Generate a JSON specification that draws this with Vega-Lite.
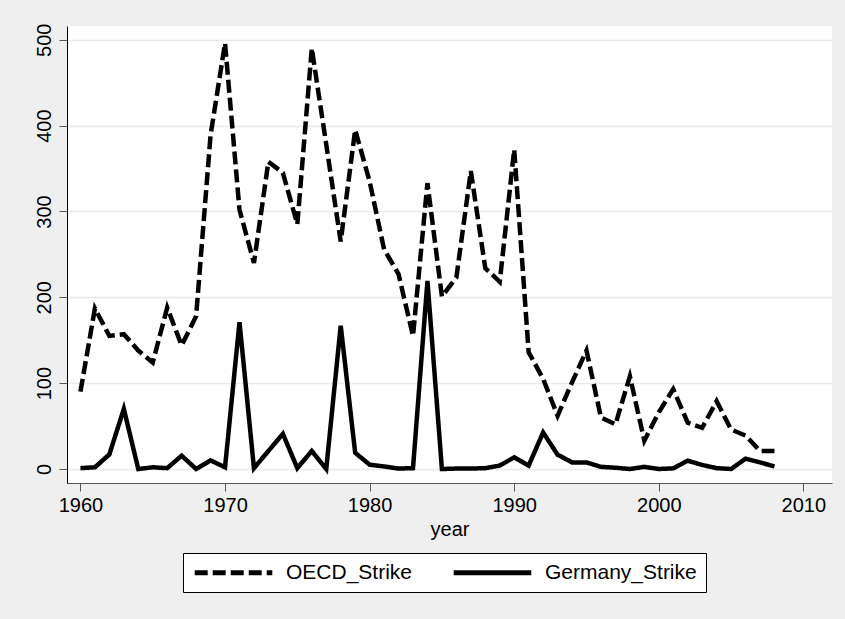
{
  "$schema": "https://vega.github.io/schema/vega-lite/v6.json",
  "autosize": "none",
  "width": 765,
  "height": 457,
  "padding": {"left": 67, "top": 26, "right": 13, "bottom": 136},
  "background": "#efefef",
  "config": {
    "view": {"fill": "white", "stroke": null},
    "font": "Liberation Sans",
    "axis": {
      "labelFont": "Liberation Sans",
      "titleFont": "Liberation Sans",
      "labelFontSize": 20,
      "titleFontSize": 20,
      "labelColor": "black",
      "titleColor": "black",
      "titleFontWeight": "normal",
      "domainColor": "#444444",
      "domainWidth": 1,
      "tickColor": "#555555",
      "tickWidth": 1,
      "tickSize": 8
    },
    "legend": {
      "labelFont": "Liberation Sans",
      "labelFontSize": 21,
      "labelColor": "black"
    }
  },
  "data": {
    "values": [
      {"year": 1960, "series": "OECD_Strike", "value": 90},
      {"year": 1961, "series": "OECD_Strike", "value": 187},
      {"year": 1962, "series": "OECD_Strike", "value": 155},
      {"year": 1963, "series": "OECD_Strike", "value": 157},
      {"year": 1964, "series": "OECD_Strike", "value": 138},
      {"year": 1965, "series": "OECD_Strike", "value": 124},
      {"year": 1966, "series": "OECD_Strike", "value": 188},
      {"year": 1967, "series": "OECD_Strike", "value": 144},
      {"year": 1968, "series": "OECD_Strike", "value": 178},
      {"year": 1969, "series": "OECD_Strike", "value": 389},
      {"year": 1970, "series": "OECD_Strike", "value": 496},
      {"year": 1971, "series": "OECD_Strike", "value": 302},
      {"year": 1972, "series": "OECD_Strike", "value": 240},
      {"year": 1973, "series": "OECD_Strike", "value": 358},
      {"year": 1974, "series": "OECD_Strike", "value": 345},
      {"year": 1975, "series": "OECD_Strike", "value": 285},
      {"year": 1976, "series": "OECD_Strike", "value": 490},
      {"year": 1977, "series": "OECD_Strike", "value": 378},
      {"year": 1978, "series": "OECD_Strike", "value": 265},
      {"year": 1979, "series": "OECD_Strike", "value": 395},
      {"year": 1980, "series": "OECD_Strike", "value": 335},
      {"year": 1981, "series": "OECD_Strike", "value": 256},
      {"year": 1982, "series": "OECD_Strike", "value": 227},
      {"year": 1983, "series": "OECD_Strike", "value": 155},
      {"year": 1984, "series": "OECD_Strike", "value": 333},
      {"year": 1985, "series": "OECD_Strike", "value": 201},
      {"year": 1986, "series": "OECD_Strike", "value": 223},
      {"year": 1987, "series": "OECD_Strike", "value": 347},
      {"year": 1988, "series": "OECD_Strike", "value": 234},
      {"year": 1989, "series": "OECD_Strike", "value": 218},
      {"year": 1990, "series": "OECD_Strike", "value": 372},
      {"year": 1991, "series": "OECD_Strike", "value": 136},
      {"year": 1992, "series": "OECD_Strike", "value": 105},
      {"year": 1993, "series": "OECD_Strike", "value": 62},
      {"year": 1994, "series": "OECD_Strike", "value": 101},
      {"year": 1995, "series": "OECD_Strike", "value": 138},
      {"year": 1996, "series": "OECD_Strike", "value": 60},
      {"year": 1997, "series": "OECD_Strike", "value": 52},
      {"year": 1998, "series": "OECD_Strike", "value": 108},
      {"year": 1999, "series": "OECD_Strike", "value": 33},
      {"year": 2000, "series": "OECD_Strike", "value": 66},
      {"year": 2001, "series": "OECD_Strike", "value": 93},
      {"year": 2002, "series": "OECD_Strike", "value": 54},
      {"year": 2003, "series": "OECD_Strike", "value": 48},
      {"year": 2004, "series": "OECD_Strike", "value": 79},
      {"year": 2005, "series": "OECD_Strike", "value": 46},
      {"year": 2006, "series": "OECD_Strike", "value": 39},
      {"year": 2007, "series": "OECD_Strike", "value": 21},
      {"year": 2008, "series": "OECD_Strike", "value": 21},
      {"year": 1960, "series": "Germany_Strike", "value": 1},
      {"year": 1961, "series": "Germany_Strike", "value": 2},
      {"year": 1962, "series": "Germany_Strike", "value": 17},
      {"year": 1963, "series": "Germany_Strike", "value": 70},
      {"year": 1964, "series": "Germany_Strike", "value": 0},
      {"year": 1965, "series": "Germany_Strike", "value": 2},
      {"year": 1966, "series": "Germany_Strike", "value": 1},
      {"year": 1967, "series": "Germany_Strike", "value": 15.5},
      {"year": 1968, "series": "Germany_Strike", "value": 0},
      {"year": 1969, "series": "Germany_Strike", "value": 10},
      {"year": 1970, "series": "Germany_Strike", "value": 2},
      {"year": 1971, "series": "Germany_Strike", "value": 171},
      {"year": 1972, "series": "Germany_Strike", "value": 1},
      {"year": 1973, "series": "Germany_Strike", "value": 21},
      {"year": 1974, "series": "Germany_Strike", "value": 41},
      {"year": 1975, "series": "Germany_Strike", "value": 1},
      {"year": 1976, "series": "Germany_Strike", "value": 21},
      {"year": 1977, "series": "Germany_Strike", "value": 0},
      {"year": 1978, "series": "Germany_Strike", "value": 167},
      {"year": 1979, "series": "Germany_Strike", "value": 19},
      {"year": 1980, "series": "Germany_Strike", "value": 5},
      {"year": 1981, "series": "Germany_Strike", "value": 3},
      {"year": 1982, "series": "Germany_Strike", "value": 0.5},
      {"year": 1983, "series": "Germany_Strike", "value": 1},
      {"year": 1984, "series": "Germany_Strike", "value": 219},
      {"year": 1985, "series": "Germany_Strike", "value": 0},
      {"year": 1986, "series": "Germany_Strike", "value": 0.5},
      {"year": 1987, "series": "Germany_Strike", "value": 0.5},
      {"year": 1988, "series": "Germany_Strike", "value": 1},
      {"year": 1989, "series": "Germany_Strike", "value": 4},
      {"year": 1990, "series": "Germany_Strike", "value": 13.6},
      {"year": 1991, "series": "Germany_Strike", "value": 4},
      {"year": 1992, "series": "Germany_Strike", "value": 42.6},
      {"year": 1993, "series": "Germany_Strike", "value": 16.7},
      {"year": 1994, "series": "Germany_Strike", "value": 7.7},
      {"year": 1995, "series": "Germany_Strike", "value": 7.7},
      {"year": 1996, "series": "Germany_Strike", "value": 2.5},
      {"year": 1997, "series": "Germany_Strike", "value": 1.5},
      {"year": 1998, "series": "Germany_Strike", "value": 0},
      {"year": 1999, "series": "Germany_Strike", "value": 2.5},
      {"year": 2000, "series": "Germany_Strike", "value": 0},
      {"year": 2001, "series": "Germany_Strike", "value": 0.8},
      {"year": 2002, "series": "Germany_Strike", "value": 9.7},
      {"year": 2003, "series": "Germany_Strike", "value": 4.7},
      {"year": 2004, "series": "Germany_Strike", "value": 1},
      {"year": 2005, "series": "Germany_Strike", "value": 0},
      {"year": 2006, "series": "Germany_Strike", "value": 12},
      {"year": 2007, "series": "Germany_Strike", "value": 7.7},
      {"year": 2008, "series": "Germany_Strike", "value": 3}
    ]
  },
  "mark": {"type": "line", "color": "black", "strokeWidth": 4.5, "strokeJoin": "miter", "strokeCap": "butt"},
  "encoding": {
    "x": {
      "field": "year",
      "type": "quantitative",
      "scale": {"domain": [1959.07, 2011.98], "nice": false, "zero": false},
      "axis": {
        "values": [1960, 1970, 1980, 1990, 2000, 2010],
        "format": "d",
        "grid": false,
        "labelPadding": 4,
        "titlePadding": 4,
        "title": "year",
        "domainColor": "#555555"
      }
    },
    "y": {
      "field": "value",
      "type": "quantitative",
      "scale": {"domain": [-16.3, 516], "nice": false, "zero": false},
      "axis": {
        "values": [0, 100, 200, 300, 400, 500],
        "format": "d",
        "title": null,
        "grid": true,
        "gridColor": "#eaeaea",
        "gridWidth": 1.5,
        "labelAngle": -90,
        "labelAlign": "center",
        "labelBaseline": "alphabetic",
        "labelPadding": 9,
        "domainColor": "black"
      }
    },
    "strokeDash": {
      "field": "series",
      "type": "nominal",
      "scale": {"domain": ["OECD_Strike", "Germany_Strike"], "range": [[13, 5], [1, 0]]},
      "legend": {
        "title": null,
        "orient": "none",
        "legendX": 116,
        "legendY": 527,
        "direction": "horizontal",
        "fillColor": "white",
        "strokeColor": "black",
        "padding": 9,
        "symbolType": "M-4.85,0H4.85",
        "symbolSize": 256,
        "symbolOffset": 31,
        "symbolStrokeWidth": 5,
        "symbolStrokeColor": "black",
        "labelOffset": 42,
        "columnPadding": 30
      }
    }
  }
}
